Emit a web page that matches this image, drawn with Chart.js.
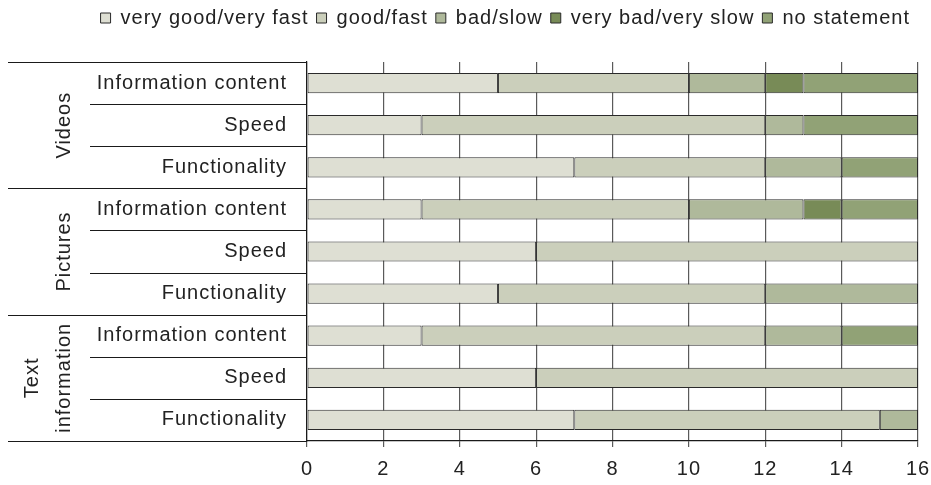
<!DOCTYPE html>
<html>
<head>
<meta charset="utf-8">
<script src="https://cdn.jsdelivr.net/npm/chart.js@4/dist/chart.umd.min.js"></script>
<style>
  html, body { margin: 0; padding: 0; background: #fff; }
  #wrap { width: 931px; height: 485px; position: relative; }
</style>
</head>
<body>
<div id="wrap"><canvas id="c"></canvas></div>
<script>
const categories = ['Information content', 'Speed', 'Functionality',
                    'Information content', 'Speed', 'Functionality',
                    'Information content', 'Speed', 'Functionality'];
const groups = [['Videos'], ['Pictures'], ['Text', 'information']];
const groupSize = 3;
const seriesNames = ['very good/very fast', 'good/fast', 'bad/slow', 'very bad/very slow', 'no statement'];
const veryGood    = [5, 3, 7, 3, 6, 5, 3, 6, 7];
const good        = [5, 9, 5, 7, 10, 7, 9, 10, 8];
const bad         = [2, 1, 2, 3, 0, 4, 2, 0, 1];
const veryBad     = [1, 0, 0, 1, 0, 0, 0, 0, 0];
const noStatement = [3, 3, 2, 2, 0, 0, 2, 0, 0];
const xTicks = [0, 2, 4, 6, 8, 10, 12, 14, 16];

const colors = ['#dedfd3', '#cbcfbb', '#afb99b', '#788b57', '#91a276'];
const FONT = "'Liberation Sans', Arial, sans-serif";
const FSIZE = 20;
const SPACING = '1px';

const seriesValues = [veryGood, good, bad, veryBad, noStatement];
const datasets = seriesNames.map((name, i) => ({
  label: name,
  data: seriesValues[i],
  backgroundColor: colors[i],
  borderColor: '#2a2a2a',
  borderWidth: ctx => (ctx.raw ? 1 : 0),
  borderSkipped: false,
  barPercentage: 0.48,
  categoryPercentage: 1.0
}));

const spacingPlugin = {
  id: 'spacing',
  beforeUpdate(chart) { chart.ctx.letterSpacing = SPACING; },
  beforeLayout(chart) { chart.ctx.letterSpacing = SPACING; },
  beforeDraw(chart) { chart.ctx.letterSpacing = SPACING; }
};

const groupAxisPlugin = {
  id: 'groupAxis',
  afterDraw(chart) {
    const ctx = chart.ctx;
    const y = chart.scales.y;
    const area = chart.chartArea;
    const n = categories.length;
    const half = (y.getPixelForValue(1) - y.getPixelForValue(0)) / 2;
    ctx.save();
    ctx.strokeStyle = '#1a1a1a';
    ctx.lineWidth = 1.2;
    for (let i = 0; i <= n; i++) {
      const py = Math.round(y.getPixelForValue(i) - half) + 0.5;
      const isGroup = (i % groupSize === 0);
      const x0 = isGroup ? 8 : 90;
      ctx.beginPath();
      ctx.moveTo(x0, py);
      ctx.lineTo(area.left, py);
      ctx.stroke();
    }
    ctx.fillStyle = '#222';
    ctx.font = FSIZE + 'px ' + FONT;
    ctx.letterSpacing = SPACING;
    ctx.textAlign = 'center';
    ctx.textBaseline = 'middle';
    groups.forEach((lines, g) => {
      const top = y.getPixelForValue(g * groupSize) - half;
      const bottom = y.getPixelForValue(g * groupSize + groupSize - 1) + half;
      const cy = (top + bottom) / 2;
      const lh = 32;
      lines.forEach((t, k) => {
        const cx = 64 - (lines.length - 1 - k) * lh;
        ctx.save();
        ctx.translate(cx, cy);
        ctx.rotate(-Math.PI / 2);
        ctx.fillText(t, 0, 0);
        ctx.restore();
      });
    });
    ctx.restore();
  }
};

const chart = new Chart(document.getElementById('c'), {
  type: 'bar',
  data: { labels: categories, datasets },
  options: {
    indexAxis: 'y',
    responsive: true,
    maintainAspectRatio: false,
    animation: false,
    layout: { padding: { left: 0, right: 13, top: 0, bottom: 0 } },
    plugins: {
      legend: {
        position: 'top',
        align: 'end',
        labels: {
          boxWidth: 10,
          boxHeight: 10,
          padding: 8,
          color: '#222',
          font: { family: FONT, size: FSIZE }
        }
      },
      tooltip: { enabled: false }
    },
    scales: {
      x: {
        stacked: true,
        min: 0,
        max: 16,
        afterBuildTicks: s => { s.ticks = xTicks.map(v => ({ value: v })); },
        afterFit: s => { s.height = 44; s.paddingLeft = 0; s.paddingRight = 0; },
        grid: { color: '#5a5a5a', lineWidth: 1.2, drawTicks: true, tickLength: 6 },
        border: { display: true, color: '#1a1a1a', width: 1.2 },
        ticks: { color: '#222', font: { family: FONT, size: FSIZE }, padding: 10 }
      },
      y: {
        stacked: true,
        afterFit: s => { s.width = 307; },
        grid: { display: false, drawTicks: false },
        border: { display: true, color: '#1a1a1a', width: 1.2 },
        ticks: { color: '#222', font: { family: FONT, size: FSIZE }, padding: 20 }
      }
    }
  },
  plugins: [spacingPlugin, groupAxisPlugin]
});

const lg = chart.legend;
const origFit = lg.fit.bind(lg);
lg.fit = function () { origFit(); this.height = 62; };
chart.update();
</script>
</body>
</html>
